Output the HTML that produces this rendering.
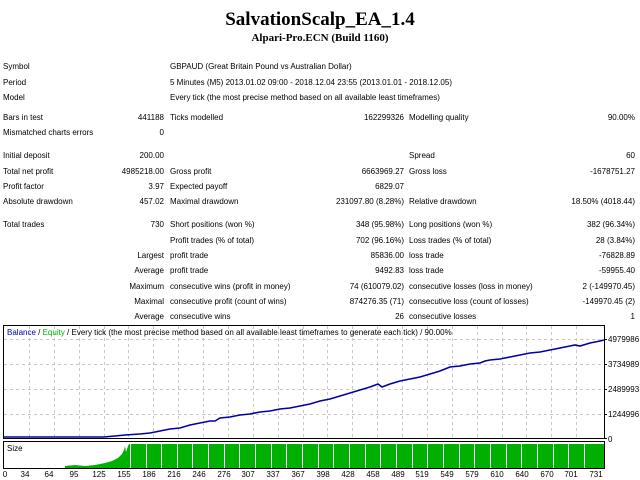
<!DOCTYPE html>
<html><head><style>
body{margin:0;width:640px;height:480px;background:#fff;position:relative;overflow:hidden;font-family:"Liberation Sans",sans-serif;font-size:8px;color:#000}
.t{position:absolute;white-space:nowrap;line-height:10px}
.r{text-align:right}
</style></head><body>
<div class="t" style="left:0;width:640px;top:9px;text-align:center;font-family:'Liberation Serif',serif;font-weight:bold;font-size:19px;line-height:22px">SalvationScalp_EA_1.4</div>
<div class="t" style="left:0;width:640px;top:32px;text-align:center;font-family:'Liberation Serif',serif;font-weight:bold;font-size:11px;line-height:12px">Alpari-Pro.ECN (Build 1160)</div>

<div class="t" style="left:3px;top:62px">Symbol</div><div class="t" style="left:170px;top:62px">GBPAUD (Great Britain Pound vs Australian Dollar)</div>
<div class="t" style="left:3px;top:78px">Period</div><div class="t" style="left:170px;top:78px">5 Minutes (M5) 2013.01.02 09:00 - 2018.12.04 23:55 (2013.01.01 - 2018.12.05)</div>
<div class="t" style="left:3px;top:93px">Model</div><div class="t" style="left:170px;top:93px">Every tick (the most precise method based on all available least timeframes)</div>

<div class="t" style="left:3px;top:113px">Bars in test</div><div class="t r" style="right:476px;top:113px">441188</div><div class="t" style="left:170px;top:113px">Ticks modelled</div><div class="t r" style="right:236px;top:113px">162299326</div><div class="t" style="left:409px;top:113px">Modelling quality</div><div class="t r" style="right:5px;top:113px">90.00%</div>
<div class="t" style="left:3px;top:128px">Mismatched charts errors</div><div class="t r" style="right:476px;top:128px">0</div>

<div class="t" style="left:3px;top:151px">Initial deposit</div><div class="t r" style="right:476px;top:151px">200.00</div><div class="t" style="left:409px;top:151px">Spread</div><div class="t r" style="right:5px;top:151px">60</div>
<div class="t" style="left:3px;top:167px">Total net profit</div><div class="t r" style="right:476px;top:167px">4985218.00</div><div class="t" style="left:170px;top:167px">Gross profit</div><div class="t r" style="right:236px;top:167px">6663969.27</div><div class="t" style="left:409px;top:167px">Gross loss</div><div class="t r" style="right:5px;top:167px">-1678751.27</div>
<div class="t" style="left:3px;top:182px">Profit factor</div><div class="t r" style="right:476px;top:182px">3.97</div><div class="t" style="left:170px;top:182px">Expected payoff</div><div class="t r" style="right:236px;top:182px">6829.07</div>
<div class="t" style="left:3px;top:197px">Absolute drawdown</div><div class="t r" style="right:476px;top:197px">457.02</div><div class="t" style="left:170px;top:197px">Maximal drawdown</div><div class="t r" style="right:236px;top:197px">231097.80 (8.28%)</div><div class="t" style="left:409px;top:197px">Relative drawdown</div><div class="t r" style="right:5px;top:197px">18.50% (4018.44)</div>

<div class="t" style="left:3px;top:220px">Total trades</div><div class="t r" style="right:476px;top:220px">730</div><div class="t" style="left:170px;top:220px">Short positions (won %)</div><div class="t r" style="right:236px;top:220px">348 (95.98%)</div><div class="t" style="left:409px;top:220px">Long positions (won %)</div><div class="t r" style="right:5px;top:220px">382 (96.34%)</div>
<div class="t" style="left:170px;top:236px">Profit trades (% of total)</div><div class="t r" style="right:236px;top:236px">702 (96.16%)</div><div class="t" style="left:409px;top:236px">Loss trades (% of total)</div><div class="t r" style="right:5px;top:236px">28 (3.84%)</div>
<div class="t r" style="right:476px;top:251px">Largest</div><div class="t" style="left:170px;top:251px">profit trade</div><div class="t r" style="right:236px;top:251px">85836.00</div><div class="t" style="left:409px;top:251px">loss trade</div><div class="t r" style="right:5px;top:251px">-76828.89</div>
<div class="t r" style="right:476px;top:266px">Average</div><div class="t" style="left:170px;top:266px">profit trade</div><div class="t r" style="right:236px;top:266px">9492.83</div><div class="t" style="left:409px;top:266px">loss trade</div><div class="t r" style="right:5px;top:266px">-59955.40</div>
<div class="t r" style="right:476px;top:282px">Maximum</div><div class="t" style="left:170px;top:282px">consecutive wins (profit in money)</div><div class="t r" style="right:236px;top:282px">74 (610079.02)</div><div class="t" style="left:409px;top:282px">consecutive losses (loss in money)</div><div class="t r" style="right:5px;top:282px">2 (-149970.45)</div>
<div class="t r" style="right:476px;top:297px">Maximal</div><div class="t" style="left:170px;top:297px">consecutive profit (count of wins)</div><div class="t r" style="right:236px;top:297px">874276.35 (71)</div><div class="t" style="left:409px;top:297px">consecutive loss (count of losses)</div><div class="t r" style="right:5px;top:297px">-149970.45 (2)</div>
<div class="t r" style="right:476px;top:312px">Average</div><div class="t" style="left:170px;top:312px">consecutive wins</div><div class="t r" style="right:236px;top:312px">26</div><div class="t" style="left:409px;top:312px">consecutive losses</div><div class="t r" style="right:5px;top:312px">1</div>

<svg style="position:absolute;left:0;top:0" width="640" height="480">
<rect x="3.5" y="325.5" width="601" height="113" fill="#fff" stroke="#000"/>
<rect x="3.5" y="441.5" width="601" height="27" fill="#fff" stroke="#000"/>
<g stroke="#c8c8c8" stroke-dasharray="3,3">
<line x1="4" y1="364.5" x2="604" y2="364.5"/><line x1="4" y1="389.5" x2="604" y2="389.5"/><line x1="4" y1="414.5" x2="604" y2="414.5"/><line x1="4" y1="339.5" x2="604" y2="339.5"/>
<line x1="29.5" y1="326" x2="29.5" y2="438"/><line x1="54.5" y1="326" x2="54.5" y2="438"/><line x1="79.5" y1="326" x2="79.5" y2="438"/><line x1="104.5" y1="326" x2="104.5" y2="438"/><line x1="128.5" y1="326" x2="128.5" y2="438"/><line x1="153.5" y1="326" x2="153.5" y2="438"/><line x1="178.5" y1="326" x2="178.5" y2="438"/><line x1="203.5" y1="326" x2="203.5" y2="438"/><line x1="228.5" y1="326" x2="228.5" y2="438"/><line x1="253.5" y1="326" x2="253.5" y2="438"/><line x1="278.5" y1="326" x2="278.5" y2="438"/><line x1="303.5" y1="326" x2="303.5" y2="438"/><line x1="327.5" y1="326" x2="327.5" y2="438"/><line x1="352.5" y1="326" x2="352.5" y2="438"/><line x1="377.5" y1="326" x2="377.5" y2="438"/><line x1="402.5" y1="326" x2="402.5" y2="438"/><line x1="427.5" y1="326" x2="427.5" y2="438"/><line x1="452.5" y1="326" x2="452.5" y2="438"/><line x1="477.5" y1="326" x2="477.5" y2="438"/><line x1="502.5" y1="326" x2="502.5" y2="438"/><line x1="526.5" y1="326" x2="526.5" y2="438"/><line x1="551.5" y1="326" x2="551.5" y2="438"/><line x1="576.5" y1="326" x2="576.5" y2="438"/>
</g>
<polyline fill="none" stroke="#0000a8" stroke-width="1.6" points="4,437 104,437 115,436 125,435 135,435 140,434 150,433 160,431 170,429 180,427 185,428 190,426 200,424 210,421 220,420 225,421 230,418 240,416 250,414 260,412 270,411 280,408 290,407 300,404 310,403 320,401 330,398 340,397 350,395 360,393 370,392 377,389 382,392 385,390 395,388 405,386 415,384 425,382 435,379 445,377 450,378 460,376 470,375 480,374 485,373 490,370 500,368 510,367 520,366 530,365 540,364 550,363 560,361 570,359 580,358 590,356 600,355 604,354" transform="translate(0,0)" style="display:none"/>
<polyline fill="none" stroke="#0000a8" stroke-width="1.6" points="4,437 104,437 115,436 125,435 140,434 150,432 160,431 170,429 180,428 190,425 200,423 210,421 215,421 220,418 230,417 240,415 250,414 260,412 270,411 280,409 290,408 300,406 310,404 320,401 330,399 340,397 350,395 360,393 370,391 378,386 383,388 390,385 400,383 410,381 420,379 430,376 440,374 450,367 455,369 460,368 470,367 480,365 485,364 490,361 500,359 510,358 520,357 530,355 540,353 550,352 560,350 570,348 573,346 580,347 590,344 600,341 604,340" style="display:none"/>
<polyline fill="none" stroke="#0000a8" stroke-width="1.6" points="4,437 104,437 115,436 125,435 140,434 150,433 160,431 170,429 180,428 190,425 200,423 210,421 215,421 220,418 230,417 240,415 250,414 260,412 270,411 280,409 290,408 300,406 310,404 320,401 330,399 340,396 350,393 360,390 370,387 378,384 382,387 390,384 400,381 410,379 420,377 430,374 440,371 450,367 460,366 470,364 480,363 485,361 490,360 500,359 510,357 520,355 530,353 540,352 550,350 560,348 570,346 575,345 580,346 590,343 600,341 604,340"/>
<text x="7" y="335" font-family="Liberation Sans,sans-serif" font-size="8"><tspan fill="#0000a8">Balance</tspan> / <tspan fill="#00b000">Equity</tspan> / Every tick (the most precise method based on all available least timeframes to generate each tick) / 90.00%</text>
<polygon fill="#00b000" points="65,468 65,466 75,465 85,466 95,465 105,463 112,461 118,458 122,454 124,450 125,446 126,452 128,446 129,444 604,444 604,468"/>
<g stroke="#fff" stroke-width="1">
<line x1="130.5" y1="444" x2="130.5" y2="468"/><line x1="146.5" y1="444" x2="146.5" y2="468"/><line x1="161.5" y1="444" x2="161.5" y2="468"/><line x1="177.5" y1="444" x2="177.5" y2="468"/><line x1="192.5" y1="444" x2="192.5" y2="468"/><line x1="208.5" y1="444" x2="208.5" y2="468"/><line x1="224.5" y1="444" x2="224.5" y2="468"/><line x1="239.5" y1="444" x2="239.5" y2="468"/><line x1="255.5" y1="444" x2="255.5" y2="468"/><line x1="271.5" y1="444" x2="271.5" y2="468"/><line x1="286.5" y1="444" x2="286.5" y2="468"/><line x1="302.5" y1="444" x2="302.5" y2="468"/><line x1="318.5" y1="444" x2="318.5" y2="468"/><line x1="333.5" y1="444" x2="333.5" y2="468"/><line x1="349.5" y1="444" x2="349.5" y2="468"/><line x1="365.5" y1="444" x2="365.5" y2="468"/><line x1="380.5" y1="444" x2="380.5" y2="468"/><line x1="396.5" y1="444" x2="396.5" y2="468"/><line x1="412.5" y1="444" x2="412.5" y2="468"/><line x1="427.5" y1="444" x2="427.5" y2="468"/><line x1="443.5" y1="444" x2="443.5" y2="468"/><line x1="459.5" y1="444" x2="459.5" y2="468"/><line x1="474.5" y1="444" x2="474.5" y2="468"/><line x1="490.5" y1="444" x2="490.5" y2="468"/><line x1="506.5" y1="444" x2="506.5" y2="468"/><line x1="521.5" y1="444" x2="521.5" y2="468"/><line x1="537.5" y1="444" x2="537.5" y2="468"/><line x1="553.5" y1="444" x2="553.5" y2="468"/><line x1="568.5" y1="444" x2="568.5" y2="468"/><line x1="584.5" y1="444" x2="584.5" y2="468"/>
</g>
<text x="7" y="451" font-family="Liberation Sans,sans-serif" font-size="8">Size</text>
<g font-family="Liberation Sans,sans-serif" font-size="8">
<text x="608" y="342">4979986</text><text x="608" y="367">3734989</text><text x="608" y="392">2489993</text><text x="608" y="417">1244996</text><text x="608" y="442">0</text>
</g>
<g stroke="#000"><line x1="604" y1="339.5" x2="607" y2="339.5"/><line x1="604" y1="364.5" x2="607" y2="364.5"/><line x1="604" y1="389.5" x2="607" y2="389.5"/><line x1="604" y1="414.5" x2="607" y2="414.5"/><line x1="604" y1="438.5" x2="607" y2="438.5"/></g>
<g font-family="Liberation Sans,sans-serif" font-size="8" text-anchor="middle">
<text x="5" y="477">0</text><text x="25" y="477">34</text><text x="49" y="477">64</text><text x="74" y="477">95</text><text x="99" y="477">125</text><text x="124" y="477">155</text><text x="149" y="477">186</text><text x="174" y="477">216</text><text x="199" y="477">246</text><text x="224" y="477">276</text><text x="248" y="477">307</text><text x="273" y="477">337</text><text x="298" y="477">367</text><text x="323" y="477">398</text><text x="348" y="477">428</text><text x="373" y="477">458</text><text x="398" y="477">489</text><text x="422" y="477">519</text><text x="447" y="477">549</text><text x="472" y="477">579</text><text x="497" y="477">610</text><text x="522" y="477">640</text><text x="547" y="477">670</text><text x="571" y="477">701</text><text x="596" y="477">731</text>
</g>
</svg>
</body></html>
